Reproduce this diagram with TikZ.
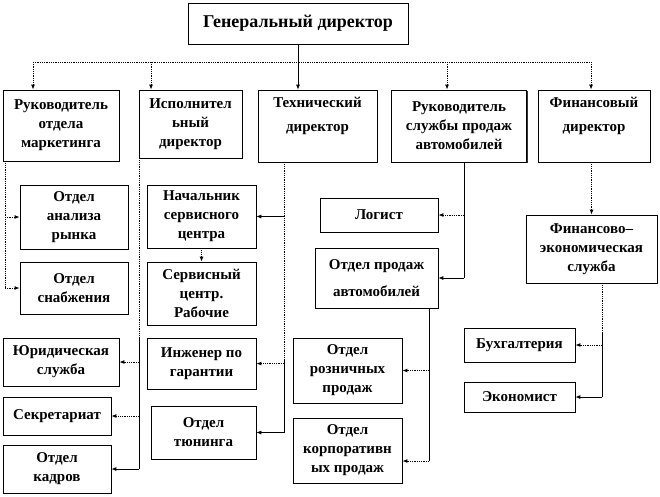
\documentclass[tikz,border=0pt]{standalone}
\usepackage{fontspec}
\setmainfont{Liberation Serif}
\usetikzlibrary{arrows.meta,shadows}

\newcommand{\boxfont}{\fontsize{15}{19}\selectfont\bfseries}
\newcommand{\gdfont}{\fontsize{18}{22}\selectfont\bfseries}

\begin{document}
\begin{tikzpicture}[x=1pt, y=-1pt,
    box/.style={draw, line width=0.7pt, fill=white, inner sep=0pt, align=center, font=\boxfont,
        drop shadow={shadow xshift=1pt, shadow yshift=-1pt, opacity=0.8, fill=black}},
    sline/.style={line width=0.8pt},
    dline/.style={line width=1pt, dash pattern=on 1pt off 0.8pt},
    arr/.style={-{Latex[length=5pt,width=4pt]}}]
            \useasboundingbox (0,0) rectangle (660,496);

            \node[box, minimum width=220pt, minimum height=41pt, font=\gdfont] (gd) at (298,23.5) {Генеральный директор};

            \node[box, minimum width=116pt, minimum height=71pt] (mark) at (61,125.5) {Руководитель\\отдела\\маркетинга};
            \node[box, minimum width=103pt, minimum height=68pt] (exec) at (190.5,124) {Исполнител\\ьный\\директор};
            \node[box, minimum width=119pt, minimum height=72pt] (tech) at (317.5,126) {Технический\\[5pt]директор\\[5pt]~};
            \node[box, minimum width=135pt, minimum height=72pt] (sales) at (459,126) {Руководитель\\службы продаж\\автомобилей};
            \node[box, minimum width=112pt, minimum height=72pt] (fin) at (594,126) {Финансовый\\[5pt]директор\\[5pt]~};

            \node[box, minimum width=108pt, minimum height=64pt] (anal) at (74,217) {Отдел\\анализа\\рынка};
            \node[box, minimum width=108pt, minimum height=52pt] (snab) at (74,288) {Отдел\\снабжения};
            \node[box, minimum width=116pt, minimum height=48pt] (yur) at (61,362) {Юридическая\\служба};
            \node[box, minimum width=108pt, minimum height=38pt] (sekr) at (57,416) {Секретариат};
            \node[box, minimum width=108pt, minimum height=48pt] (kadr) at (57,469) {Отдел\\кадров};

            \node[box, minimum width=109pt, minimum height=63pt] (nach) at (201.5,216.5) {Начальник\\сервисного\\центра};
            \node[box, minimum width=109pt, minimum height=63pt] (serv) at (201.5,293.5) {Сервисный\\центр.\\Рабочие};
            \node[box, minimum width=109pt, minimum height=51pt] (inzh) at (201.5,363.5) {Инженер по\\гарантии};
            \node[box, minimum width=105pt, minimum height=53pt] (tun) at (203.5,432.5) {Отдел\\тюнинга};

            \node[box, minimum width=118pt, minimum height=34pt] (log) at (379,215) {Логист};
            \node[box, minimum width=123pt, minimum height=60pt] (otdp) at (376.5,278) {Отдел продаж\\[8pt]автомобилей};
            \node[box, minimum width=109pt, minimum height=65pt] (rozn) at (347.5,370.5) {Отдел\\розничных\\продаж};
            \node[box, minimum width=109pt, minimum height=65pt] (korp) at (347.5,450.5) {Отдел\\корпоративн\\ых продаж};

            \node[box, minimum width=131pt, minimum height=68pt] (fes) at (591.5,249) {Финансово–\\экономическая\\служба};
            \node[box, minimum width=111pt, minimum height=34pt] (buh) at (519.5,345) {Бухгалтерия};
            \node[box, minimum width=111pt, minimum height=30pt] (ekon) at (519.5,397) {Экономист};

            \coordinate (d1) at (33,62);
            \coordinate (d2) at (151,62);
            \coordinate (d3) at (447,62);
            \coordinate (d4) at (591,62);
            \draw[dline] (d1) -- (d4);
            \draw[sline,arr] (gd.south) -- (gd.south |- tech.north);
            \draw[dline,arr] (d1) -- (d1 |- mark.north);
            \draw[dline,arr] (d2) -- (d2 |- exec.north);
            \draw[dline,arr] (d3) -- (d3 |- sales.north);
            \draw[dline,arr] (d4) -- (d4 |- fin.north);

            \coordinate (lmark) at (5,0);
            \draw[dline] (lmark |- mark.south) -- (lmark |- snab.west);
            \draw[dline,arr] (lmark |- anal.west) -- (anal.west);
            \draw[dline,arr] (lmark |- snab.west) -- (snab.west);

            \coordinate (lexec) at (139,0);
            \coordinate (esplit) at (139,337);
            \draw[dline] (lexec |- exec.south) -- (esplit);
            \draw[sline] (esplit) -- (lexec |- kadr.east);
            \draw[dline,arr] (lexec |- yur.east) -- (yur.east);
            \draw[dline,arr] (lexec |- sekr.east) -- (sekr.east);
            \draw[sline,arr] (lexec |- kadr.east) -- (kadr.east);

            \coordinate (ltech) at (284,0);
            \coordinate (tsplit) at (284,359);
            \draw[dline] (ltech |- tech.south) -- (tsplit);
            \draw[sline] (tsplit) -- (ltech |- tun.east);
            \draw[sline,arr] (ltech |- nach.east) -- (nach.east);
            \draw[dline,arr] (ltech |- inzh.east) -- (inzh.east);
            \draw[sline,arr] (ltech |- tun.east) -- (tun.east);
            \draw[dline,arr] (nach.south) -- (serv.north);

            \coordinate (lsales) at (464,0);
            \draw[sline] (lsales |- sales.south) -- (lsales |- otdp.east);
            \draw[dline,arr] (lsales |- log.east) -- (log.east);
            \draw[sline,arr] (lsales |- otdp.east) -- (otdp.east);

            \coordinate (lotdp) at (429,0);
            \coordinate (kin) at ([yshift=-10.5pt]korp.east);
            \draw[sline] (lotdp |- otdp.south) -- (lotdp |- kin);
            \draw[dline,arr] (lotdp |- rozn.east) -- (rozn.east);
            \draw[dline,arr] (lotdp |- kin) -- (kin);

            \draw[dline,arr] (fes.north |- fin.south) -- (fes.north);
            \coordinate (lfes) at (602,0);
            \coordinate (fsplit) at (602,333);
            \draw[dline] (lfes |- fes.south) -- (fsplit);
            \draw[sline] (fsplit) -- (lfes |- ekon.east);
            \draw[dline,arr] (lfes |- buh.east) -- (buh.east);
            \draw[sline,arr] (lfes |- ekon.east) -- (ekon.east);
        \end{tikzpicture}
\end{document}
